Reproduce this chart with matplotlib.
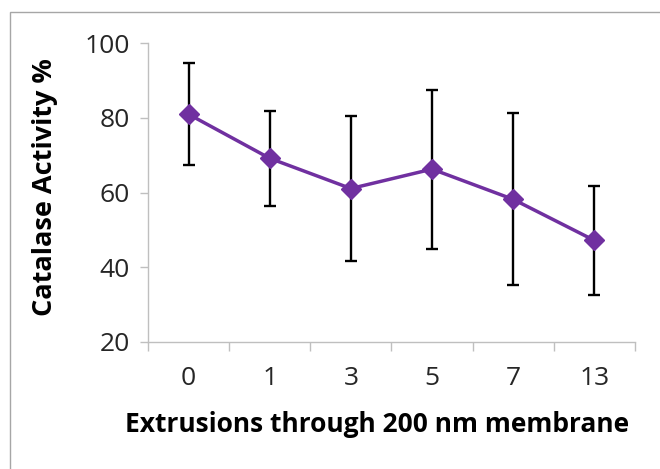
import matplotlib
matplotlib.use('Agg')
from matplotlib import pyplot as plt
from matplotlib.patches import Rectangle

# data
extrusions = ["0", "1", "3", "5", "7", "13"]
activity = [81.0, 69.2, 61.1, 66.3, 58.2, 47.2]
activity_err = [13.6, 12.7, 19.4, 21.3, 23.0, 14.6]
y_ticks = [20, 40, 60, 80, 100]

plt.rcParams['font.family'] = ['Open Sans', 'DejaVu Sans']

fig = plt.figure(figsize=(6.6, 4.69), dpi=100)
ax = fig.add_axes([0.2242, 0.2708, 0.7379, 0.6369])

# outer chart border (Excel chart area)
fig.patches.append(Rectangle((10 / 660, -0.1), 1.2, 1 - 12 / 469 + 0.1,
                             transform=fig.transFigure, fill=False,
                             edgecolor="#A6A6A6", linewidth=1.0))

x = list(range(len(extrusions)))
ax.errorbar(x, activity, yerr=activity_err, fmt="none", ecolor="black",
            elinewidth=1.7, capsize=4, capthick=1.7, zorder=2)
ax.plot(x, activity, color="#7030A0", linewidth=2.5, marker="D",
        markersize=10.5, markeredgecolor="#7030A0", zorder=3)

ax.set_xlim(-0.5, len(extrusions) - 0.5)
ax.set_ylim(20, 100)
ax.set_yticks(y_ticks)
ax.set_xticks(x)
ax.set_xticklabels(extrusions)
ax.set_xticks([i - 0.5 for i in range(len(extrusions) + 1)], minor=True)

for side in ("top", "right"):
    ax.spines[side].set_visible(False)
for side in ("left", "bottom"):
    ax.spines[side].set_color("#BFBFBF")
    ax.spines[side].set_linewidth(1.0)

ax.tick_params(axis="y", length=6, width=1.0, color="#BFBFBF", pad=7,
               labelsize=19, labelcolor="#262626")
ax.tick_params(axis="x", which="major", length=0, pad=17,
               labelsize=19, labelcolor="#262626")
ax.tick_params(axis="x", which="minor", length=6.5, width=1.0, color="#BFBFBF")

fig.text(0.068, 0.602, "Catalase Activity %", rotation=90, ha="center",
         va="center", fontsize=19.5, fontweight="bold", color="black")
fig.text(0.571, 0.094, "Extrusions through 200 nm membrane", ha="center",
         va="center", fontsize=19, fontweight="bold", color="black")

fig.savefig("out.png", dpi=100)
plt.close(fig)
